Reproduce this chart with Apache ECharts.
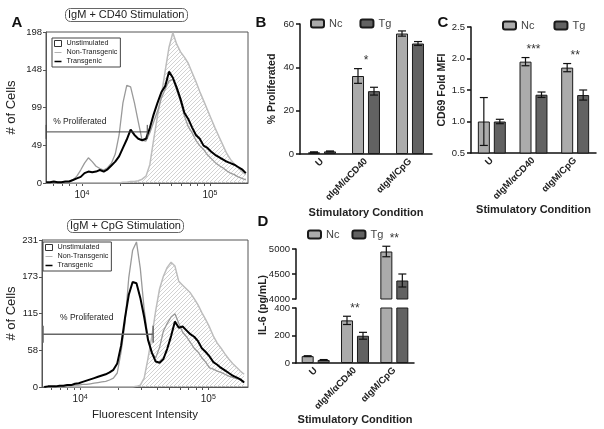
<!DOCTYPE html>
<html lang="en">
<head>
<meta charset="UTF-8">
<title>B cell stimulation</title>
<script src="https://cdn.jsdelivr.net/npm/echarts@6/dist/echarts.min.js"></script>
<style>
    html, body { margin: 0; padding: 0; background: #fff; }
    #main { width: 604px; height: 429px; }
</style>
</head>
<body>
<div id="main"></div>
<script>
    // histogram channels (log10 of fluorescent intensity)
    var binLog = [3.72, 3.75, 3.78, 3.81, 3.84, 3.87, 3.90, 3.93, 3.96, 3.99, 4.02, 4.05, 4.08, 4.11, 4.14, 4.17, 4.20, 4.23,
        4.26, 4.29, 4.32, 4.35, 4.38, 4.41, 4.44, 4.47, 4.50, 4.53, 4.56, 4.59, 4.62, 4.65, 4.68, 4.71, 4.74, 4.77,
        4.80, 4.83, 4.86, 4.89, 4.92, 4.95, 4.98, 5.01, 5.04, 5.07, 5.10, 5.13, 5.16, 5.19, 5.22, 5.25, 5.28];

    // IgM + CD40
    var cd40Unstim = [0, 0, 0, 0, 0, 0, 0, 0, 0, 0, 0, 0, 0, 0, 0, 0, 0, 0, 0, 0, 1, 1, 2, 2, 3, 5, 9, 24, 57, 88,
        115, 147, 178, 197, 182, 172, 165, 157, 145, 133, 120, 108, 96, 84, 72, 61, 50, 39, 31, 25, 20, 15, 11];
    var cd40NonTg = [0, 0, 1, 1, 1, 1, 2, 4, 9, 17, 26, 33, 28, 22, 19, 17, 20, 26, 38, 63, 105, 128, 126, 105, 80, 56, 55, 66, 80, 94,
        111, 123, 134, 136, 122, 107, 88, 74, 66, 56, 49, 44, 37, 32, 27, 23, 20, 16, 13, 11, 8, 6, 4];
    var cd40Tg = [1, 1, 2, 1, 1, 2, 2, 4, 6, 8, 13, 15, 14, 15, 17, 15, 18, 23, 28, 35, 46, 57, 70, 63, 58, 56, 58, 72, 90, 105,
        119, 127, 146, 138, 125, 110, 92, 84, 73, 63, 58, 49, 46, 41, 37, 34, 31, 28, 26, 24, 21, 18, 13];
    var cd40Ticks = ['0', '49', '99', '148', '198'];
    var cd40Gate = [3.72, 4.51, 67];

    // IgM + CpG
    var cpgUnstim = [0, 0, 0, 0, 0, 0, 0, 0, 0, 0, 0, 0, 0, 0, 0, 0, 0, 0, 0, 0, 0, 0, 0, 0, 1, 3, 14, 45, 80, 120,
        154, 174, 188, 196, 190, 166, 160, 154, 148, 139, 129, 117, 106, 94, 80, 69, 61, 52, 44, 37, 31, 25, 20];
    var cpgNonTg = [0, 0, 0, 1, 1, 1, 2, 2, 3, 3, 4, 4, 5, 6, 7, 8, 9, 11, 14, 22, 55, 100, 172, 215, 228, 186, 122, 76, 53, 46,
        62, 88, 100, 110, 115, 100, 86, 79, 70, 61, 55, 46, 39, 30, 28, 25, 23, 20, 17, 15, 13, 12, 7];
    var cpgTg = [0, 1, 1, 1, 2, 2, 3, 3, 5, 6, 8, 10, 12, 14, 16, 18, 20, 23, 27, 37, 65, 108, 145, 165, 163, 140, 110, 74, 54, 40,
        38, 44, 60, 80, 103, 93, 95, 89, 83, 79, 72, 61, 55, 48, 39, 35, 30, 26, 22, 18, 15, 12, 7];
    var cpgTicks = ['0', '58', '115', '173', '231'];
    var cpgGate = [3.711, 4.57, 83];

    var minorTicks = [6000, 7000, 8000, 9000, 10000, 20000, 30000, 40000, 50000, 60000, 70000, 80000, 90000, 100000];

    // bar panels
    var cats = ['U', 'αIgM/αCD40', 'αIgM/CpG'];
    var profNc = [0.8, 36, 55.6], profNcErr = [0.2, 3.4, 1.2];
    var profTg = [1.2, 29, 51], profTgErr = [0.2, 1.8, 0.9];
    var profStars = ['', '*', ''];
    var cd69Nc = [1.0, 1.95, 1.855], cd69NcErr = [0.38, 0.065, 0.065];
    var cd69Tg = [1.0, 1.425, 1.42], cd69TgErr = [0.035, 0.043, 0.08];
    var cd69Stars = ['', '***', '**'];
    var il6Nc = [50, 310, 4950], il6NcErr = [3, 30, 105];
    var il6Tg = [22, 198, 4370], il6TgErr = [3, 25, 130];
    var il6Stars = ['', '**', '**'];

    var FONT = 'Arial, "Liberation Sans", sans-serif';

    function hatch() {
        var c = document.createElement('canvas');
        c.width = 4; c.height = 4;
        var g = c.getContext('2d');
        g.strokeStyle = '#cdcdcd';
        g.lineWidth = 0.9;
        g.beginPath();
        g.moveTo(0, 4); g.lineTo(4, 0);
        g.moveTo(-1, 1); g.lineTo(1, -1);
        g.moveTo(3, 5); g.lineTo(5, 3);
        g.stroke();
        return c;
    }
    var hatchImg = hatch();

    function pairs(arr) {
        return binLog.map(function (x, i) { return [x, arr[i]]; });
    }

    function histX(gi, min, max, name) {
        return {
            type: 'value', gridIndex: gi, min: min, max: max,
            name: name, nameLocation: 'middle', nameGap: 22,
            nameTextStyle: { fontSize: 11.5, color: '#222', fontFamily: FONT },
            axisLine: { lineStyle: { color: '#555', width: 1 } },
            axisTick: { length: 3, customValues: minorTicks.map(Math.log10), lineStyle: { color: '#555' } },
            splitLine: { show: false },
            axisLabel: {
                customValues: [4, 5], margin: 7,
                formatter: function (v) { return '{b|10}{s|' + Math.round(v) + '}'; },
                rich: {
                    b: { fontSize: 10, color: '#222', fontFamily: FONT },
                    s: { fontSize: 7, color: '#222', fontFamily: FONT, verticalAlign: 'top' }
                }
            }
        };
    }

    function histY(gi, max, ticks, gap) {
        return {
            type: 'value', gridIndex: gi, min: 0, max: max, interval: max / 4,
            name: '# of Cells', nameLocation: 'middle', nameGap: gap,
            nameTextStyle: { fontSize: 13, color: '#222', fontFamily: FONT },
            axisLine: { show: true, lineStyle: { color: '#555', width: 1 } },
            axisTick: { show: true, length: 3, lineStyle: { color: '#555' } },
            splitLine: { show: false },
            axisLabel: {
                fontSize: 9.5, color: '#222', margin: 4, fontFamily: FONT,
                formatter: function (v) { return ticks[Math.round(v / (max / 4))]; }
            }
        };
    }

    function histSeries(gi, unstim, nonTg, tg) {
        return [
            { type: 'line', name: 'Unstimulated', xAxisIndex: gi, yAxisIndex: gi, data: pairs(unstim), symbol: 'none', z: 1,
              lineStyle: { color: '#bdbdbd', width: 1.5 },
              areaStyle: { color: { image: hatchImg, repeat: 'repeat' }, opacity: 1 } },
            { type: 'line', name: 'Non-Transgenic', xAxisIndex: gi, yAxisIndex: gi, data: pairs(nonTg), symbol: 'none', z: 2,
              lineStyle: { color: '#9a9a9a', width: 1.3 }, itemStyle: { color: '#9a9a9a' } },
            { type: 'line', name: 'Transgenic', xAxisIndex: gi, yAxisIndex: gi, data: pairs(tg), symbol: 'none', z: 3,
              lineStyle: { color: '#000', width: 2 }, itemStyle: { color: '#000' } }
        ];
    }

    function gateSeries(gi, gate, hh, tx, ty, lw, col) {
        return {
            type: 'custom', xAxisIndex: gi, yAxisIndex: gi, z: 4, data: [gate],
            renderItem: function (params, api) {
                var a = api.coord([api.value(0), api.value(2)]);
                var b = api.coord([api.value(1), api.value(2)]);
                var st = { stroke: col, lineWidth: lw };
                return {
                    type: 'group', children: [
                        { type: 'line', shape: { x1: a[0], y1: a[1], x2: b[0], y2: b[1] }, style: st },
                        { type: 'line', shape: { x1: a[0], y1: a[1] - hh, x2: a[0], y2: a[1] + hh }, style: st },
                        { type: 'line', shape: { x1: b[0], y1: b[1] - hh, x2: b[0], y2: b[1] + hh }, style: st },
                        { type: 'text', x: a[0] + tx, y: a[1] + ty,
                          style: { text: '% Proliferated', font: '8.5px ' + FONT, fill: '#222', textVerticalAlign: 'middle' } }
                    ]
                };
            }
        };
    }

    function catX(gi, gap, show) {
        return {
            type: 'category', gridIndex: gi, data: cats, show: show !== false,
            name: 'Stimulatory Condition', nameLocation: 'middle', nameGap: gap,
            nameTextStyle: { fontSize: 11, fontWeight: 'bold', color: '#222', fontFamily: FONT },
            axisLine: { lineStyle: { color: '#111', width: 1.5 } },
            axisTick: { alignWithLabel: true, length: 4, lineStyle: { color: '#111', width: 1.5 } },
            axisLabel: { rotate: 45, interval: 0, fontSize: 9.5, fontWeight: 'bold', color: '#222', margin: 6, fontFamily: FONT }
        };
    }

    function plain(v) { return String(v); }

    function barY(gi, min, max, step, name, gap, fmt) {
        return {
            type: 'value', gridIndex: gi, min: min, max: max, interval: step,
            name: name || '', nameLocation: 'middle', nameGap: gap || 20,
            nameTextStyle: { fontSize: 10.5, fontWeight: 'bold', color: '#222', fontFamily: FONT },
            axisLine: { show: true, lineStyle: { color: '#111', width: 1.5 } },
            axisTick: { show: true, length: 4, lineStyle: { color: '#111', width: 1.5 } },
            splitLine: { show: false },
            axisLabel: { fontSize: 9.5, color: '#222', margin: 6, fontFamily: FONT, formatter: fmt || plain }
        };
    }

    function bars(gi, nc, tg) {
        return [
            { type: 'bar', name: 'Nc', xAxisIndex: gi, yAxisIndex: gi, data: nc, barWidth: 12, barGap: '33%', clip: true,
              itemStyle: { color: '#ababab', borderColor: '#1a1a1a', borderWidth: 1 } },
            { type: 'bar', name: 'Tg', xAxisIndex: gi, yAxisIndex: gi, data: tg, barWidth: 12, barGap: '33%', clip: true,
              itemStyle: { color: '#626262', borderColor: '#1a1a1a', borderWidth: 1 } }
        ];
    }

    function errSeries(gi, mean, err, offset, keep) {
        var d = [];
        mean.forEach(function (m, i) { if (keep(m)) d.push([i, m, err[i]]); });
        return {
            type: 'custom', xAxisIndex: gi, yAxisIndex: gi, z: 5, data: d,
            renderItem: function (params, api) {
                var c = api.value(0), m = api.value(1), e = api.value(2);
                var top = api.coord([c, m + e]), bot = api.coord([c, m - e]);
                var x = top[0] + offset, w = 4;
                var st = { stroke: '#111', lineWidth: 1.2 };
                return {
                    type: 'group', children: [
                        { type: 'line', shape: { x1: x, y1: top[1], x2: x, y2: bot[1] }, style: st },
                        { type: 'line', shape: { x1: x - w, y1: top[1], x2: x + w, y2: top[1] }, style: st },
                        { type: 'line', shape: { x1: x - w, y1: bot[1], x2: x + w, y2: bot[1] }, style: st }
                    ]
                };
            }
        };
    }

    function starSeries(gi, stars, nc, ncE, tg, tgE, keep) {
        var d = [];
        stars.forEach(function (s, i) {
            if (s && keep(nc[i])) d.push([i, Math.max(nc[i] + ncE[i], tg[i] + tgE[i])]);
        });
        return {
            type: 'custom', xAxisIndex: gi, yAxisIndex: gi, z: 5, data: d,
            renderItem: function (params, api) {
                var p = api.coord([api.value(0), api.value(1)]);
                return {
                    type: 'text', x: p[0], y: p[1] - 14,
                    style: { text: stars[api.value(0)], font: '12px ' + FONT, fill: '#333', textAlign: 'center', textVerticalAlign: 'top' }
                };
            }
        };
    }

    function all() { return true; }
    function low(v) { return v <= 400; }
    function high(v) { return v > 400; }

    function letter(t, x, y) {
        return { type: 'text', x: x, y: y, style: { text: t, font: 'bold 15px ' + FONT, fill: '#111', textAlign: 'center', textVerticalAlign: 'middle' } };
    }

    // thin bar icons so the line entries show no symbol dot
    var histLegendData = [
        { name: 'Unstimulated', icon: 'rect', itemStyle: { color: '#fff', borderColor: '#333', borderWidth: 1 } },
        { name: 'Non-Transgenic', icon: 'path://M0,0 L12,0 L12,1.3 L0,1.3 Z', itemStyle: { color: '#9a9a9a', borderWidth: 0 } },
        { name: 'Transgenic', icon: 'path://M0,0 L12,0 L12,2.6 L0,2.6 Z', itemStyle: { color: '#000', borderWidth: 0 } }
    ];
    function histLegend(left, top) {
        return {
            orient: 'vertical', left: left, top: top, selectedMode: false,
            itemWidth: 7, itemHeight: 6, itemGap: 2, padding: [2, 3, 2, 2],
            borderColor: '#444', borderWidth: 1,
            textStyle: { fontSize: 7.2, color: '#222', fontFamily: FONT },
            data: histLegendData
        };
    }
    function barLegend(left, top, gap) {
        return {
            left: left, top: top, selectedMode: false, itemWidth: 13, itemHeight: 8, itemGap: gap, padding: 0,
            textStyle: { fontSize: 11, color: '#444', fontFamily: FONT },
            data: ['Nc', 'Tg']
        };
    }

    var myChart = echarts.init(document.getElementById('main'));
    var option = {
        animation: false,
        backgroundColor: '#fff',
        textStyle: { fontFamily: FONT },
        title: [
            { text: 'IgM + CD40 Stimulation', left: 65, top: 8, padding: [1, 3], borderColor: '#666', borderWidth: 1, borderRadius: 5,
              textStyle: { fontSize: 11, fontWeight: 'normal', color: '#222', lineHeight: 12, fontFamily: FONT } },
            { text: 'IgM + CpG Stimulation', left: 67, top: 219, padding: [1, 3], borderColor: '#666', borderWidth: 1, borderRadius: 5,
              textStyle: { fontSize: 11, fontWeight: 'normal', color: '#222', lineHeight: 12, fontFamily: FONT } }
        ],
        legend: [
            histLegend(52, 38),
            histLegend(43, 242),
            barLegend(310, 18, 17),
            barLegend(502, 20, 19),
            barLegend(307, 229, 12)
        ],
        graphic: [
            letter('A', 17, 23),
            letter('B', 261, 23),
            letter('C', 443, 23),
            letter('D', 263, 222),
            { type: 'text', x: 263, y: 305, rotation: Math.PI / 2,
              style: { text: 'IL-6 (pg/mL)', font: 'bold 10.5px ' + FONT, fill: '#222', textAlign: 'center', textVerticalAlign: 'middle' } }
        ],
        grid: [
            { left: 46, top: 32, width: 202, height: 151, show: true, borderColor: '#555', borderWidth: 1 },
            { left: 42, top: 240, width: 206, height: 147, show: true, borderColor: '#555', borderWidth: 1 },
            { left: 300, top: 24, width: 132, height: 130 },
            { left: 471, top: 27, width: 125, height: 126 },
            { left: 296, top: 249, width: 118, height: 50 },
            { left: 296, top: 308, width: 118, height: 55 }
        ],
        xAxis: [
            histX(0, 3.719, 5.297, ''),
            histX(1, 3.703, 5.31, 'Fluorescent Intensity'),
            catX(2, 53),
            catX(3, 50),
            catX(4, 0, false),
            catX(5, 47)
        ],
        yAxis: [
            histY(0, 198, cd40Ticks, 28),
            histY(1, 231, cpgTicks, 24),
            barY(2, 0, 60, 20, '% Proliferated', 22),
            barY(3, 0.5, 2.5, 0.5, 'CD69 Fold MFI', 21, function (v) { return v.toFixed(1); }),
            barY(4, 4000, 5000, 500),
            barY(5, 0, 400, 200)
        ],
        series: [].concat(
            histSeries(0, cd40Unstim, cd40NonTg, cd40Tg),
            [gateSeries(0, cd40Gate, 7, 7, -10.5, 1, '#444')],
            histSeries(1, cpgUnstim, cpgNonTg, cpgTg),
            [gateSeries(1, cpgGate, 8.5, 17, -17, 1.5, '#666')],
            bars(2, profNc, profTg),
            [errSeries(2, profNc, profNcErr, -8, all), errSeries(2, profTg, profTgErr, 8, all),
             starSeries(2, profStars, profNc, profNcErr, profTg, profTgErr, all)],
            bars(3, cd69Nc, cd69Tg),
            [errSeries(3, cd69Nc, cd69NcErr, -8, all), errSeries(3, cd69Tg, cd69TgErr, 8, all),
             starSeries(3, cd69Stars, cd69Nc, cd69NcErr, cd69Tg, cd69TgErr, all)],
            bars(4, il6Nc, il6Tg),
            [errSeries(4, il6Nc, il6NcErr, -8, high), errSeries(4, il6Tg, il6TgErr, 8, high),
             starSeries(4, il6Stars, il6Nc, il6NcErr, il6Tg, il6TgErr, high)],
            bars(5, il6Nc, il6Tg),
            [errSeries(5, il6Nc, il6NcErr, -8, low), errSeries(5, il6Tg, il6TgErr, 8, low),
             starSeries(5, il6Stars, il6Nc, il6NcErr, il6Tg, il6TgErr, low)]
        )
    };
    myChart.setOption(option);
</script>
</body>
</html>
